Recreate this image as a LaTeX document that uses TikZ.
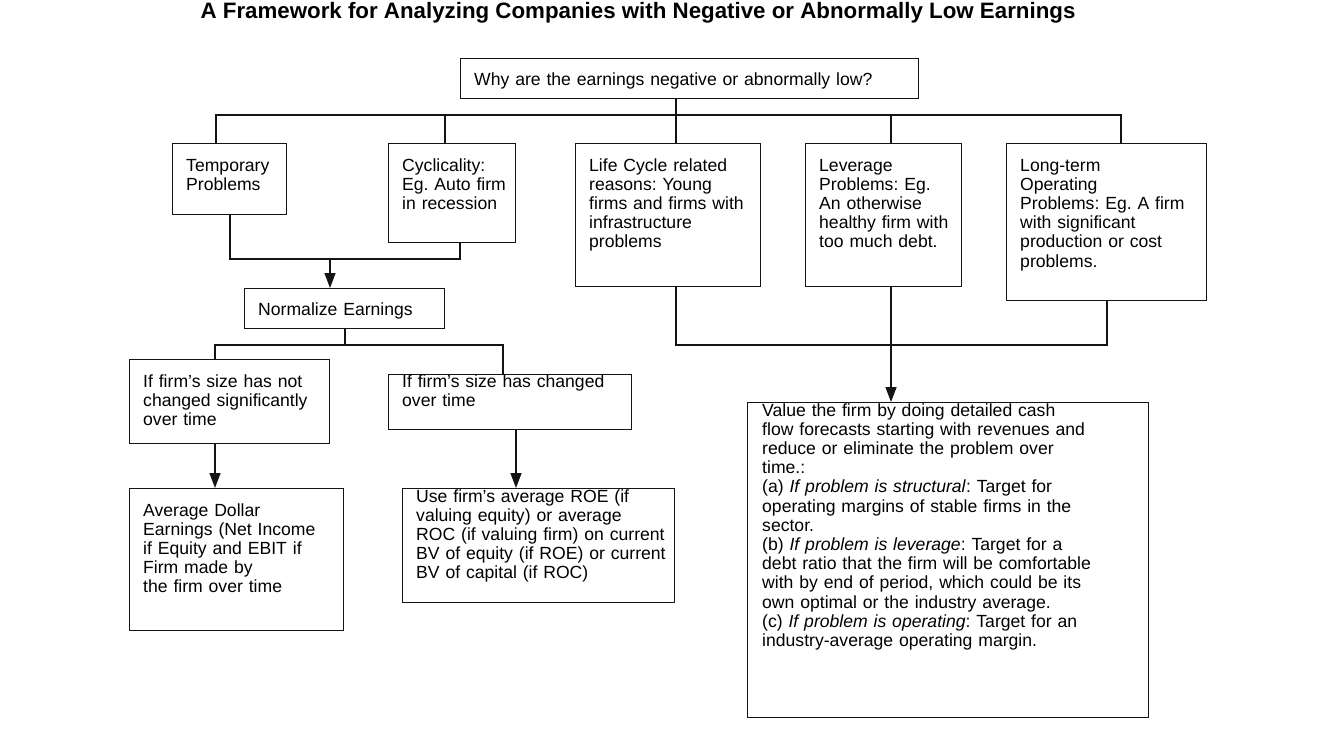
\documentclass[tikz,border=0pt]{standalone}
\usepackage{fontspec}
\setmainfont{Liberation Sans}
\usetikzlibrary{arrows.meta,positioning,calc}
\definecolor{ink}{RGB}{20,20,20}
\newcommand{\bodyfont}{\fontsize{17.6}{19.2}\selectfont\frenchspacing}
\tikzset{
  >={Triangle[length=15pt,width=11pt]},
  box/.style={draw=ink,line width=1.4pt,anchor=north west,inner sep=0pt},
  txt/.style={anchor=base west,inner sep=0pt,text width=600pt,align=left,
    font=\bodyfont,text=black},
  wire/.style={draw=ink,line width=1.4pt},
  arr/.style={wire,->},
}
\begin{document}
\begin{tikzpicture}[x=1pt,y=-1pt]
  \useasboundingbox (0,0) rectangle (1337,737);
  \node[anchor=base,inner sep=0pt,font=\bfseries\fontsize{22.3}{24}\selectfont] (title) at (638,18)
    {A Framework for Analyzing Companies with Negative or Abnormally Low Earnings};

  % boxes
  \node[box,minimum width=458,minimum height=40] (why) at (460,58) {};
  \node[box,minimum width=114,minimum height=71] (temp) at (172,143) {};
  \node[box,minimum width=127,minimum height=99] (cyc) at (388,143) {};
  \node[box,minimum width=185,minimum height=143] (life) at (575,143) {};
  \node[box,minimum width=156,minimum height=143] (lev) at (805,143) {};
  \node[box,minimum width=200,minimum height=157] (lterm) at (1006,143) {};
  \node[box,minimum width=200,minimum height=40] (norm) at (244,288) {};
  \node[box,minimum width=200,minimum height=84] (same) at (129,359) {};
  \node[box,minimum width=243,minimum height=55] (chg) at (388,374) {};
  \node[box,minimum width=214,minimum height=142] (avg) at (129,488) {};
  \node[box,minimum width=272,minimum height=114] (roe) at (402,488) {};
  \node[box,minimum width=401,minimum height=315] (val) at (747,402) {};

  % texts
  \node[txt] (why-t) at ([shift={(14,27)}]why.north west)
    {Why are the earnings negative or abnormally low?};
  \node[txt] (temp-t) at ([shift={(14,28)}]temp.north west) {Temporary\\Problems};
  \node[txt] (cyc-t) at ([shift={(14,28)}]cyc.north west)
    {Cyclicality:\\Eg. Auto firm\\in recession};
  \node[txt] (life-t) at ([shift={(14,28)}]life.north west)
    {Life Cycle related\\reasons: Young\\firms and firms with\\infrastructure\\problems};
  \node[txt] (lev-t) at ([shift={(14,28)}]lev.north west)
    {Leverage\\Problems: Eg.\\An otherwise\\healthy firm with\\too much debt.};
  \node[txt] (lterm-t) at ([shift={(14,28)}]lterm.north west)
    {Long-term\\Operating\\Problems: Eg. A firm\\with significant\\production or cost\\problems.};
  \node[txt] (norm-t) at ([shift={(14,27)}]norm.north west) {Normalize Earnings};
  \node[txt] (same-t) at ([shift={(14,28)}]same.north west)
    {If firm’s size has not\\changed significantly\\over time};
  \node[txt] (chg-t) at ([shift={(14,13)}]chg.north west)
    {If firm’s size has changed\\over time};
  \node[txt] (avg-t) at ([shift={(14,28)}]avg.north west)
    {Average Dollar\\Earnings (Net Income\\if Equity and EBIT if\\Firm made by\\the firm over time};
  \node[txt] (roe-t) at ([shift={(14,14)}]roe.north west)
    {Use firm’s average ROE (if\\valuing equity) or average\\ROC (if valuing firm) on current\\BV of equity (if ROE) or current\\BV of capital (if ROC)};
  \node[txt] (val-t) at ([shift={(15,14)}]val.north west)
    {Value the firm by doing detailed cash\\
     flow forecasts starting with revenues and\\
     reduce or eliminate the problem over\\
     time.:\\
     (a) \textit{If problem is structural}: Target for\\
     operating margins of stable firms in the\\
     sector.\\
     (b) \textit{If problem is leverage}: Target for a\\
     debt ratio that the firm will be comfortable\\
     with by end of period, which could be its\\
     own optimal or the industry average.\\
     (c) \textit{If problem is operating}: Target for an\\
     industry-average operating margin.};

  % connectors
  \coordinate (b1) at (216,115);
  \coordinate (b2) at (445,115);
  \coordinate (b3) at (676,115);
  \coordinate (b4) at (891,115);
  \coordinate (b5) at (1121,115);
  \draw[wire] (b1 |- temp.north) -- (b1) -- (b5) -- (b5 |- lterm.north);
  \draw[wire] (b2) -- (b2 |- cyc.north);
  \draw[wire] (b3 |- why.south) -- (b3 |- life.north);
  \draw[wire] (b4) -- (b4 |- lev.north);

  \coordinate (t1) at (230,259);
  \coordinate (t2) at (460,259);
  \coordinate (t3) at (330,259);
  \draw[wire] (t1 |- temp.south) -- (t1) -- (t2) -- (t2 |- cyc.south);
  \draw[arr] (t3) -- (t3 |- norm.north);

  \coordinate (n0) at (345,345);
  \coordinate (n1) at (215,345);
  \coordinate (n2) at (503,345);
  \coordinate (n3) at (516,345);
  \draw[wire] (n0 |- norm.south) -- (n0);
  \draw[wire] (n1 |- same.north) -- (n1) -- (n2) -- (n2 |- chg.north);
  \draw[arr] (n1 |- same.south) -- (n1 |- avg.north);
  \draw[arr] (n3 |- chg.south) -- (n3 |- roe.north);

  \coordinate (r1) at (676,345);
  \coordinate (r2) at (1107,345);
  \draw[wire] (r1 |- life.south) -- (r1) -- (r2) -- (r2 |- lterm.south);
  \draw[arr] (b4 |- lev.south) -- (b4 |- val.north);
\end{tikzpicture}
\end{document}
